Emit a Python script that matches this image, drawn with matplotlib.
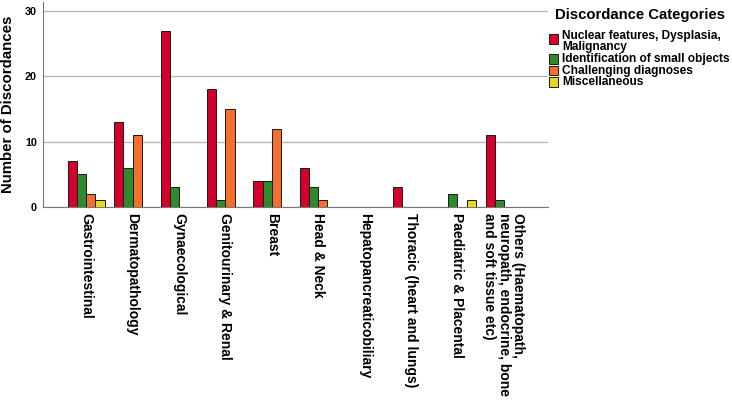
import matplotlib
matplotlib.use("Agg")
import matplotlib.pyplot as plt
import numpy as np
from matplotlib.patches import Rectangle

plt.rcParams['font.family'] = ['Liberation Sans', 'DejaVu Sans']
plt.rcParams['font.weight'] = 'bold'

categories = [
    "Gastrointestinal",
    "Dermatopathology",
    "Gynaecological",
    "Genitourinary & Renal",
    "Breast",
    "Head & Neck",
    "Hepatopancreaticobiliary",
    "Thoracic (heart and lungs)",
    "Paediatric & Placental",
    "Others (Haematopath,\nneuropath, endocrine, bone\nand soft tissue etc)",
]
series_names = [
    "Nuclear features, Dysplasia,\nMalignancy",
    "Identification of small objects",
    "Challenging diagnoses",
    "Miscellaneous",
]
nuclear = [7, 13, 27, 18, 4, 6, 0, 3, 0, 11]
small_objects = [5, 6, 3, 1, 4, 3, 0, 0, 2, 1]
challenging = [2, 11, 0, 15, 12, 1, 0, 0, 0, 0]
misc = [1, 0, 0, 0, 0, 0, 0, 0, 1, 0]
colors = ["#d2002b", "#2f8a2f", "#f2702c", "#e3d91e"]

W, H = 732, 403
fig = plt.figure(figsize=(W/100, H/100), dpi=100)
ax = fig.add_axes([43/W, 1-207/H, (548-43)/W, (207-2)/H])

x = np.arange(len(categories))
w = 0.198
for k, vals in enumerate([nuclear, small_objects, challenging, misc]):
    ax.bar(x + (k - 1.5) * w, vals, width=w, color=colors[k],
           edgecolor="#1a1a1a", linewidth=0.7, zorder=3)

ax.set_xlim(-0.93, 9.95)
ax.set_ylim(0, 31.4)
ax.set_yticks([0, 10, 20, 30])
ax.yaxis.grid(True, color="#b4b4b4", linewidth=0.9, zorder=0)
ax.set_axisbelow(True)
for s in ["top", "right"]:
    ax.spines[s].set_visible(False)
ax.spines["left"].set_color("#777777")
ax.spines["bottom"].set_color("#777777")
ax.tick_params(axis="both", length=0)
ax.tick_params(axis="y", labelsize=7.8, pad=4.5)
ax.set_xticks(x)
ax.set_xticklabels(categories, rotation=-90, fontsize=10, fontweight="bold",
                   va="top", ha="center", multialignment="left",
                   linespacing=1.05)
ax.tick_params(axis="x", pad=4)
ax.set_ylabel("Number of Discordances", fontsize=10.8, fontweight="bold")
ax.yaxis.set_label_coords(-0.055, 0.502)

# Legend (drawn manually for tight SPSS-like spacing)
fig.text(555/W, 1-19.5/H, "Discordance Categories", fontsize=10.7,
         fontweight="bold", va="baseline", ha="left")
patch_tops = [34.3, 54, 65.5, 77]
text_baselines = [50, 62.3, 73.8, 85.3]
for k in range(4):
    fig.add_artist(Rectangle((549/W, 1-(patch_tops[k]+9.7)/H), 9.3/W, 9.7/H,
                             transform=fig.transFigure, facecolor=colors[k],
                             edgecolor="#1a1a1a", linewidth=0.7))
    fig.text(562/W, 1-text_baselines[k]/H, series_names[k], fontsize=8.55,
             fontweight="bold", va="baseline", ha="left", linespacing=0.85)

fig.savefig("out.png", dpi=100)
